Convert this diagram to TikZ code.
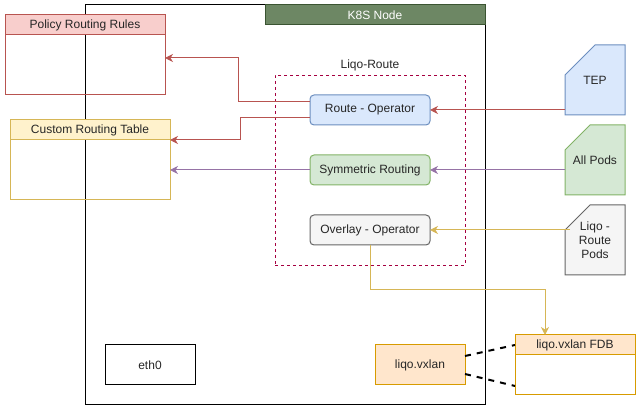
\documentclass[tikz,border=0pt]{standalone}
\usepackage{fontspec}
\setmainfont{Liberation Sans}
\usetikzlibrary{arrows.meta, positioning}

\definecolor{redfill}{HTML}{F8CECC}
\definecolor{reddraw}{HTML}{B85450}
\definecolor{yellowfill}{HTML}{FFF2CC}
\definecolor{yellowdraw}{HTML}{D6B656}
\definecolor{bluefill}{HTML}{DAE8FC}
\definecolor{bluedraw}{HTML}{6C8EBF}
\definecolor{greenfill}{HTML}{D5E8D4}
\definecolor{greendraw}{HTML}{82B366}
\definecolor{greyfill}{HTML}{F5F5F5}
\definecolor{greydraw}{HTML}{666666}
\definecolor{orangefill}{HTML}{FFE6CC}
\definecolor{orangedraw}{HTML}{D79B00}
\definecolor{k8sfill}{HTML}{6D8764}
\definecolor{k8sdraw}{HTML}{3A5431}
\definecolor{liqodash}{HTML}{A50040}
\definecolor{purpledraw}{HTML}{9673A6}

\begin{document}
\begin{tikzpicture}[x=1pt, y=-1pt, >={Stealth[length=8pt, width=8pt, inset=2.5pt]}, line width=1pt,
  font=\fontsize{12}{14}\selectfont, node distance=60pt,
  every node/.style={inner sep=0pt, outer sep=0pt, text=black!85},
  tablehead/.style={draw, minimum height=20pt},
  tablebody/.style={draw, minimum height=60pt},
  operator/.style={draw, rounded corners=4pt, minimum width=120pt, minimum height=30pt},
  card/.style={minimum width=60pt, minimum height=70pt},
  iface/.style={draw, minimum width=90pt, minimum height=40pt}]

  \useasboundingbox (0,0) rectangle (641,411);

% define the node and its tables
  \node[draw, minimum width=400pt, minimum height=400pt] (k8s) at (285,205) {};
  \node[draw=k8sdraw, fill=k8sfill, minimum width=220pt, minimum height=20pt,
        anchor=north east, text=white] (k8shead) at (k8s.north east) {K8S Node};

  \node[tablehead, draw=reddraw, fill=redfill, minimum width=160pt] (prr) at (85,25)
{Policy Routing Rules};
  \node[tablebody, draw=reddraw, minimum width=160pt] (prrbody) [below=0pt of prr] {};

  \node[tablehead, draw=yellowdraw, fill=yellowfill, minimum width=160pt] (crt) at (90,130)
{Custom Routing Table};
  \node[tablebody, draw=yellowdraw, minimum width=160pt] (crtbody) [below=0pt of crt] {};

% define the liqo-route operators
  \node[draw=liqodash, dash pattern=on 3pt off 3pt, line width=0.8pt,
        minimum width=190pt, minimum height=190pt] (liqo) at (370,170) {};
  \node (liqolabel) at (370,65) {Liqo-Route};

  \node[operator, draw=bluedraw, fill=bluefill]   (route) at (370,110)
{Route - Operator};
  \node[operator, draw=greendraw, fill=greenfill] (sym)     [below of=route]
{Symmetric Routing};
  \node[operator, draw=greydraw, fill=greyfill]   (overlay) [below of=sym]
{Overlay - Operator};

% define the watched resources (cards)
  \node[card] (tep)     at (595,80) {};
  \node[card] (allpods) [below of=tep, node distance=80pt] {};
  \node[card] (lrpods)  [below of=allpods, node distance=80pt] {};
  \foreach \cardname/\cardfill/\carddraw/\cut in {tep/bluefill/bluedraw/30, allpods/greenfill/greendraw/25, lrpods/greyfill/greydraw/25}
    \draw[fill=\cardfill, draw=\carddraw] ([xshift=\cut pt]\cardname.north west) -- (\cardname.north east)
      -- (\cardname.south east) -- (\cardname.south west) -- ([yshift=-\cut pt]\cardname.north west) -- cycle;
  \node (teptext)     at (tep)     {TEP};
  \node (allpodstext) at (allpods) {All Pods};
  \node[align=center] (lrpodstext) at (lrpods) {Liqo -\\Route\\Pods};

% define the interfaces
  \node[iface] (eth0) at (150,365) {eth0};
  \node[iface, draw=orangedraw, fill=orangefill] (vxlan) at (420,365) {liqo.vxlan};
  \node[tablehead, draw=orangedraw, fill=orangefill, minimum width=120pt] (fdb) at (575,345)
{liqo.vxlan FDB};
  \node[tablebody, draw=orangedraw, minimum width=120pt, minimum height=40pt] (fdbbody) [below=0pt of fdb] {};

% define the links
  \draw[->, reddraw] (tep.south west |- route.east) -- (route.east);
  \draw[->, purpledraw] (allpods.west |- sym.east) -- (sym.east);
  \draw[->, yellowdraw] ([xshift=5pt]lrpods.west |- overlay.east) -- (overlay.east);

  \draw[->, reddraw] ([yshift=8pt]route.west) -- ++(-72,0) |- ([yshift=7pt]prrbody.east);
  \draw[->, reddraw] ([yshift=-8pt]route.west) -- ++(-70,0) |- (crt.south east);
  \draw[->, purpledraw] (sym.west) -- (crtbody.east);
  \draw[->, yellowdraw] (overlay.south) -- ++(0,45) -| ([xshift=-30pt]fdb.north);

  \draw[line width=2pt, dash pattern=on 6pt off 6pt] ([yshift=9pt]vxlan.east) -- (fdb.west);
  \draw[line width=2pt, dash pattern=on 6pt off 6pt] ([yshift=-9pt]vxlan.east) -- ([yshift=-11pt]fdbbody.west);

\end{tikzpicture}
\end{document}
